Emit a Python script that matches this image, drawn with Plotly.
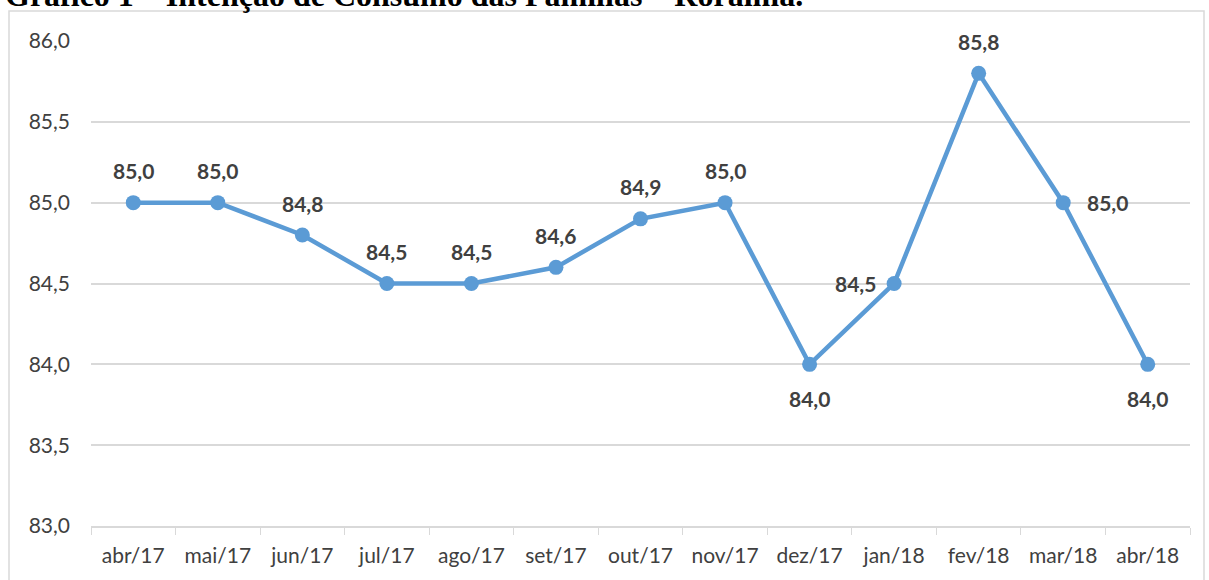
import plotly.graph_objects as go

months = ["abr/17", "mai/17", "jun/17", "jul/17", "ago/17", "set/17", "out/17",
          "nov/17", "dez/17", "jan/18", "fev/18", "mar/18", "abr/18"]
values = [85.0, 85.0, 84.8, 84.5, 84.5, 84.6, 84.9, 85.0, 84.0, 84.5, 85.8, 85.0, 84.0]
label_pos = ["above", "above", "above", "above", "above", "above", "above",
             "above", "below", "left", "above", "right", "below"]
y_ticks = [83.0, 83.5, 84.0, 84.5, 85.0, 85.5, 86.0]
title_text = "Gráfico 1 – Intenção de Consumo das Famílias – Roraima."

W, H = 1209, 580
ML, MR, MT, MB = 91, 19, 41, 54
pw, ph = W - ML - MR, H - MT - MB

def px_x(p):
    return (p - ML) / pw

def px_y(p):
    return (H - MB - p) / ph

FONT = "Lato, Open Sans, sans-serif"

fig = go.Figure()
fig.add_trace(go.Scatter(
    x=months, y=values, mode="lines+markers",
    line=dict(color="#5B9BD5", width=4.5),
    marker=dict(color="#5B9BD5", size=15),
    hoverinfo="skip",
))

shifts = {"above": (0, 32), "below": (0, -34), "left": (-39, 0), "right": (44, 0)}
annotations = []
for m, v, p in zip(months, values, label_pos):
    dx, dy = shifts[p]
    annotations.append(dict(
        x=m, y=v, xref="x", yref="y", text=f"{v:.1f}".replace(".", ","),
        showarrow=False, xshift=dx, yshift=dy, xanchor="center", yanchor="middle",
        font=dict(family=FONT, size=21, color="#404040", weight="bold"),
    ))

annotations.append(dict(
    x=px_x(3), y=px_y(15), xref="paper", yref="paper", xanchor="left", yanchor="bottom",
    text="<b>" + title_text + "</b>", showarrow=False,
    font=dict(family="Liberation Serif, Times New Roman, serif", size=32, color="#000000"),
))

fig.update_layout(
    width=W, height=H,
    margin=dict(l=ML, r=MR, t=MT, b=MB),
    paper_bgcolor="white", plot_bgcolor="white",
    showlegend=False,
    separators=",.",
    annotations=annotations,
    shapes=[dict(type="rect", xref="paper", yref="paper",
                 x0=px_x(9), x1=px_x(1204), y0=px_y(600), y1=px_y(11),
                 line=dict(color="#D9D9D9", width=1.5), layer="below")],
    font=dict(family=FONT, color="#404040"),
)
fig.update_xaxes(
    type="category", tickson="boundaries", ticks="outside", ticklen=7,
    tickcolor="#D9D9D9", showline=True, linecolor="#D9D9D9", linewidth=1.5,
    showgrid=False, tickfont=dict(size=21, color="#404040"), ticklabelstandoff=10,
    range=[-0.5, len(months) - 0.5],
)
fig.update_yaxes(
    range=[83.0, 86.0], tickvals=y_ticks, tickformat=".1f",
    showgrid=True, gridcolor="#D9D9D9", gridwidth=1.5,
    zeroline=False, showline=False, ticks="",
    tickfont=dict(size=21, color="#404040"), ticklabelstandoff=20,
)

fig.write_html("out.html", config={"displayModeBar": False},
               post_script="document.body.style.margin='0';")
